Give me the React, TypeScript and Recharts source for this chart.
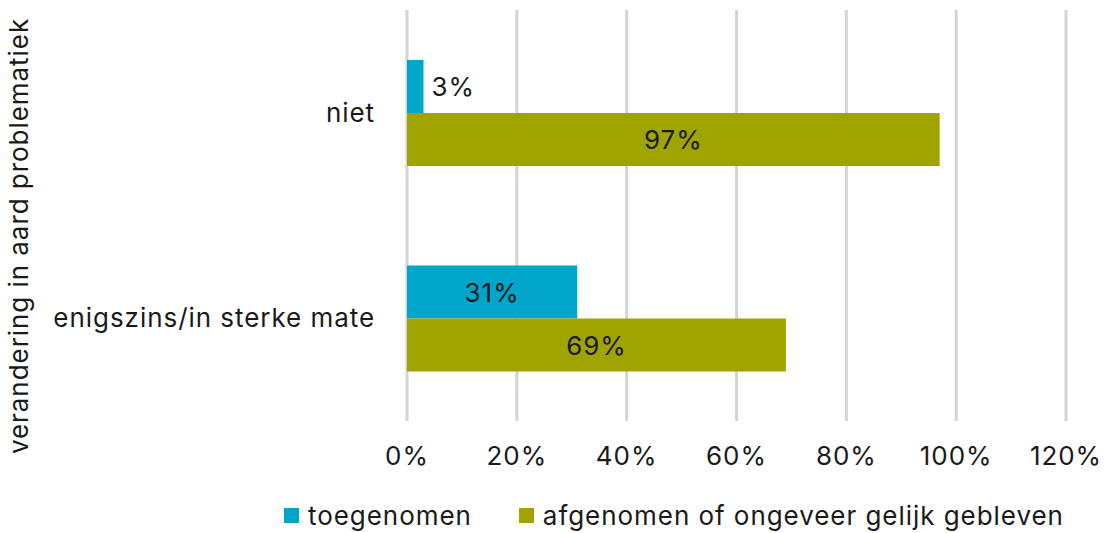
import { Bar, BarChart, CartesianGrid, LabelList, Legend, XAxis, YAxis } from "recharts";

const categories = ["niet", "enigszins/in sterke mate"];
const toegenomen = [3, 31];
const afgenomen = [97, 69];
const xTicks = [0, 20, 40, 60, 80, 100, 120];

const TEAL = "#00a6c9";
const OLIVE = "#a0a400";
const FONT = "Inter, 'Noto Sans', sans-serif";
const FS = 26;
const LS = 0.95;

const legendItems = [
  { value: "toegenomen", color: TEAL },
  { value: "afgenomen of ongeveer gelijk gebleven", color: OLIVE },
];

const data = categories.map((name, i) => ({
  name,
  toegenomen: toegenomen[i],
  afgenomen: afgenomen[i],
}));

function BarLabel(props: any) {
  const { x, y, width, height, value } = props;
  const outside = value < 10;
  return (
    <text
      x={outside ? x + width + 8 : x + width / 2}
      y={y + height / 2}
      textAnchor={outside ? "start" : "middle"}
      dominantBaseline="central"
      fontSize={FS}
      letterSpacing={LS}
      fontFamily={FONT}
      fill="#1a1a1a"
    >
      {value}%
    </text>
  );
}

function LegendContent() {
  return (
    <div
      style={{
        display: "flex",
        alignItems: "center",
        fontFamily: FONT,
        fontSize: FS,
        letterSpacing: LS,
        color: "#1a1a1a",
        whiteSpace: "nowrap",
      }}
    >
      {legendItems.map((entry, i) => (
        <div key={i} style={{ display: "flex", alignItems: "center", marginRight: 47 }}>
          <span style={{ width: 15, height: 15, background: entry.color, display: "inline-block", marginRight: 9 }} />
          <span>{entry.value}</span>
        </div>
      ))}
    </div>
  );
}

export default function App() {
  return (
    <div style={{ position: "absolute", left: 0, top: 0, width: 1109, height: 533, background: "#fff" }}>
      <BarChart
        width={1109}
        height={533}
        data={data}
        layout="vertical"
        margin={{ top: 10, right: 43, bottom: 0, left: 0 }}
        barGap={0}
      >
        <CartesianGrid horizontal={false} stroke="#d4d4d4" strokeWidth={3} />
        <XAxis
          type="number"
          domain={[0, 120]}
          ticks={xTicks}
          tickFormatter={(v) => `${v}%`}
          axisLine={false}
          tickLine={false}
          tickSize={0}
          tickMargin={26}
          height={76}
          tick={{ fontSize: FS, fontFamily: FONT, fill: "#1a1a1a", letterSpacing: LS }}
        />
        <YAxis
          type="category"
          dataKey="name"
          width={407}
          axisLine={false}
          tickLine={false}
          tickSize={0}
          tickMargin={32}
          tick={{ fontSize: FS, fontFamily: FONT, fill: "#1a1a1a", letterSpacing: LS }}
          label={{
            content: () => (
              <text
                x={18}
                y={236}
                transform="rotate(-90 18 236)"
                textAnchor="middle"
                dominantBaseline="central"
                fontSize={FS}
                letterSpacing={LS}
                fontFamily={FONT}
                fill="#1a1a1a"
              >
                verandering in aard problematiek
              </text>
            ),
          }}
        />
        <Legend
          verticalAlign="bottom"
          content={<LegendContent />}
          wrapperStyle={{ left: 284, top: 500, width: "auto", height: 36 }}
        />
        <Bar dataKey="toegenomen" name="toegenomen" fill={TEAL} barSize={53} isAnimationActive={false}>
          <LabelList dataKey="toegenomen" content={<BarLabel />} />
        </Bar>
        <Bar
          dataKey="afgenomen"
          name="afgenomen of ongeveer gelijk gebleven"
          fill={OLIVE}
          barSize={53}
          isAnimationActive={false}
        >
          <LabelList dataKey="afgenomen" content={<BarLabel />} />
        </Bar>
      </BarChart>
    </div>
  );
}
